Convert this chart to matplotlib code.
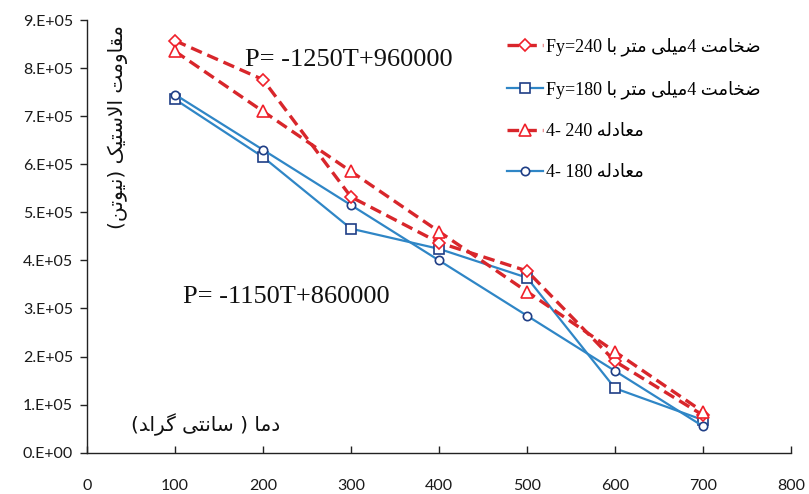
import matplotlib
matplotlib.use("Agg")
import matplotlib.pyplot as plt
from matplotlib.ticker import FixedLocator

# ---------------- data ----------------
temps = [100, 200, 300, 400, 500, 600, 700]
fy240_test = [857000, 776000, 532000, 437000, 378000, 190000, 78000]
fy180_test = [735000, 615000, 466000, 424000, 364000, 134000, 68000]
fy240_eq = [835000, 710000, 585000, 460000, 335000, 210000, 85000]
fy180_eq = [745000, 630000, 515000, 400000, 285000, 170000, 55000]

xticks = [0, 100, 200, 300, 400, 500, 600, 700, 800]
yticks = [0, 100000, 200000, 300000, 400000, 500000, 600000, 700000, 800000, 900000]
ytick_labels = ["0.E+00", "1.E+05", "2.E+05", "3.E+05", "4.E+05",
                "5.E+05", "6.E+05", "7.E+05", "8.E+05", "9.E+05"]

# Persian text, pre-shaped (Arabic presentation forms) in visual order
w_zekhamat = "\uFE96\uFEE3\uFE8E\uFEA8\uFEBF"          # ضخامت
w_mili = "\uFBFD\uFEE0\uFBFF\uFEE3"                    # میلی
w_metr = "\uFEAE\uFE98\uFEE3"                          # متر
w_ba = "\uFE8E\uFE91"                                  # با
w_moadele = "\uFEEA\uFEDF\uFEA9\uFE8E\uFECC\uFEE3"     # معادله
w_moghavemat = "\uFE96\uFEE3\uFEED\uFE8E\uFED8\uFEE3"  # مقاومت
w_elastic = "\uFB8F\uFBFF\uFE98\uFEB3\uFEFB\uFE8D"     # الاستیک
w_newton = "\uFEE6\uFE97\uFEEE\uFBFF\uFEE7"            # نیوتن
w_grad = "\uFEAA\uFE8D\uFEAE\uFB94"                    # گراد
w_santi = "\uFBFD\uFE98\uFEE7\uFE8E\uFEB3"             # سانتی
w_dama = "\uFE8E\uFEE3\uFEA9"                          # دما

series_labels = [
    "Fy=240 " + w_ba + " " + w_metr + " " + w_mili + "4 " + w_zekhamat,
    "Fy=180 " + w_ba + " " + w_metr + " " + w_mili + "4 " + w_zekhamat,
    "4- 240 " + w_moadele,
    "4- 180 " + w_moadele,
]
ylabel_text = "(" + w_newton + ") " + w_elastic + " " + w_moghavemat
xlabel_text = "(" + w_grad + " " + w_santi + " ) " + w_dama
eq240_text = "P= -1250T+960000"
eq180_text = "P= -1150T+860000"

# ---------------- figure ----------------
fig = plt.figure(figsize=(8.09, 4.94), dpi=100)
ax = fig.add_axes([0.1075, 0.0836, 0.8703, 0.8759])

red_line = "#D8262B"
red_mark = "#F0202A"
blue_line = "#2F86C6"
blue_mark = "#1F3E86"

ax.plot(temps, fy240_test, color=red_line, lw=2.4, dashes=(3.5, 1.8),
        marker="D", ms=6, mfc="white", mec=red_mark, mew=1.2,
        label=series_labels[0], zorder=4)
ax.plot(temps, fy180_test, color=blue_line, lw=1.6,
        marker="s", ms=6.5, mfc="white", mec=blue_mark, mew=1.2,
        label=series_labels[1], zorder=3)
ax.plot(temps, fy240_eq, color=red_line, lw=2.4, dashes=(3.5, 1.8),
        marker="^", ms=8, mfc="white", mec=red_mark, mew=1.2,
        label=series_labels[2], zorder=4)
ax.plot(temps, fy180_eq, color=blue_line, lw=1.6,
        marker="o", ms=6, mfc="white", mec=blue_mark, mew=1.2,
        label=series_labels[3], zorder=3)

ax.set_xlim(0, 800)
ax.set_ylim(0, 900000)
ax.xaxis.set_major_locator(FixedLocator(xticks))
ax.set_xticklabels([str(v) for v in xticks])
ax.yaxis.set_major_locator(FixedLocator(yticks))
ax.set_yticklabels(ytick_labels)

for s in ["top", "right"]:
    ax.spines[s].set_visible(False)
for s in ["left", "bottom"]:
    ax.spines[s].set_color("#222222")
    ax.spines[s].set_linewidth(1.0)

ax.tick_params(axis="x", direction="in", length=5, width=1, pad=19,
               colors="#222222", labelcolor="#1a1a1a")
ax.tick_params(axis="y", direction="out", length=5, width=1, pad=5,
               colors="#222222", labelcolor="#1a1a1a")
for lab in ax.get_xticklabels() + ax.get_yticklabels():
    lab.set_fontfamily(["Lato", "DejaVu Sans"])
    lab.set_fontsize(11.5)

serif = ["Liberation Serif", "DejaVu Sans"]
ax.text(180, 816000, eq240_text, fontsize=19, family=serif,
        ha="left", va="center", color="#111111")
ax.text(109, 324000, eq180_text, fontsize=19, family=serif,
        ha="left", va="center", color="#111111")
ax.text(135, 58000, xlabel_text, fontsize=14.5, family=["DejaVu Sans"],
        ha="center", va="center", color="#111111")
ax.text(35, 677000, ylabel_text, fontsize=14.5, family=["DejaVu Sans"],
        rotation=90, ha="center", va="center", color="#111111")

leg = ax.legend(loc="upper left", bbox_to_anchor=(0.578, 0.99), frameon=False,
                prop={"family": serif, "size": 13}, handlelength=2.0,
                handletextpad=0.2, labelspacing=1.35, borderaxespad=0.3)

fig.savefig("out.png", dpi=100)
